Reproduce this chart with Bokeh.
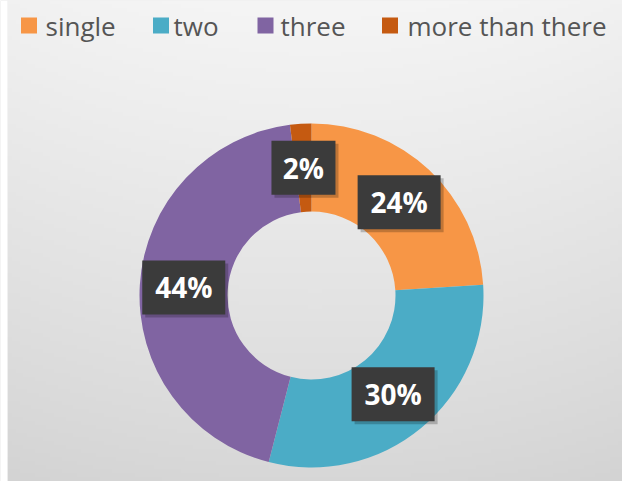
import numpy as np
from bokeh.plotting import figure
from bokeh.models import ColumnDataSource, Range1d
from bokeh.core.properties import value
from bokeh.embed import file_html
from bokeh.resources import INLINE

# ---- data ----
categories = ["single", "two", "three", "more than there"]
values = [24, 30, 44, 2]
colors = ["#F79646", "#4BACC6", "#8064A2", "#C55A11"]

# ---- layout ----
W, H = 622, 481
CX, CY = 311, 186
R_OUT, R_IN = 172, 84
legend_square_x = [28.5, 160.5, 265, 389.5]
legend_text_x = [45, 173, 280, 407]
legend_y = 456

p = figure(width=W, height=H, x_range=Range1d(0, W), y_range=Range1d(0, H),
           output_backend="svg", toolbar_location=None, min_border=0)
p.axis.visible = False
p.grid.visible = False
p.outline_line_color = None
p.background_fill_color = "#e4e4e4"
p.border_fill_color = "#e4e4e4"

# background gradient
ny, nx = 120, 160
yy = np.linspace(0, 1, ny)[:, None]
xx = np.linspace(-1, 1, nx)[None, :]
g = 215 + 30 * yy ** 0.9 - 4 * xx ** 2
g = np.clip(g, 0, 255).astype(np.uint8)
img = np.empty((ny, nx), dtype=np.uint32)
view = img.view(dtype=np.uint8).reshape((ny, nx, 4))
view[:, :, 0] = g
view[:, :, 1] = g
view[:, :, 2] = g
view[:, :, 3] = 255
p.image_rgba(image=[img], x=7, y=0, dw=W - 7, dh=H)
p.quad(left=0, right=7, bottom=0, top=H, fill_color="white", line_color=None)

# donut
vals = np.array(values, dtype=float)
frac = vals / vals.sum()
cum_end = np.cumsum(frac)
cum_start = cum_end - frac
start = np.pi / 2 - 2 * np.pi * cum_end
end = np.pi / 2 - 2 * np.pi * cum_start
mid = (start + end) / 2
r_mid = (R_OUT + R_IN) / 2

src = ColumnDataSource(dict(start=start, end=end, color=colors,
                            lx=CX + r_mid * np.cos(mid), ly=CY + r_mid * np.sin(mid),
                            label=[f"{v}%" for v in values],
                            bw=[26 + 19 * len(f"{v}%") for v in values]))
p.annular_wedge(x=CX, y=CY, inner_radius=R_IN, outer_radius=R_OUT,
                start_angle="start", end_angle="end", direction="anticlock",
                fill_color="color", line_color=None, source=src)

# label boxes (shadow + box)
src_sh = ColumnDataSource(dict(x=src.data["lx"] + 3, y=src.data["ly"] - 3, bw=src.data["bw"]))
p.rect(x="x", y="y", width="bw", height=54, width_units="screen", height_units="screen",
       fill_color="black", fill_alpha=0.22, line_color=None, source=src_sh)
p.rect(x="lx", y="ly", width="bw", height=54, width_units="screen", height_units="screen",
       fill_color="#3b3b3b", line_color=None, source=src)
p.text(x="lx", y="ly", text="label", text_align="center", text_baseline="middle",
       text_font=value("Open Sans"), text_font_style="bold", text_font_size="28px",
       text_color="white", source=src)

# legend
p.scatter(x=legend_square_x, y=[legend_y] * 4, marker="square", size=16,
          fill_color=colors, line_color=None)
p.text(x=legend_text_x, y=[legend_y] * 4, text=categories, text_align="left",
       text_baseline="middle", text_font=value("Open Sans"), text_font_size="26px",
       text_color="#555555")

open("out.html", "w").write(file_html(p, INLINE))
